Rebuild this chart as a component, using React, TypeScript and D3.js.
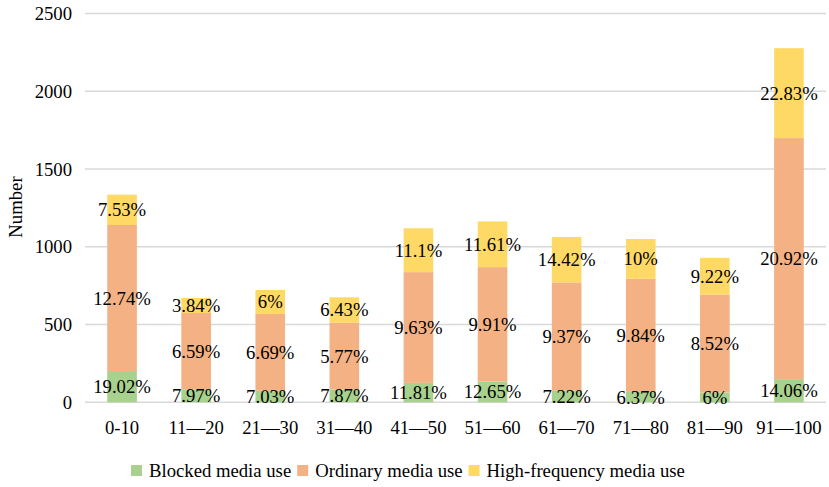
import React, { useEffect, useRef } from 'react';
import * as d3 from 'd3';

// categories and series
const categories = ['0-10', '11—20', '21—30', '31—40', '41—50', '51—60', '61—70', '71—80', '81—90', '91—100'];
const blocked = [201, 84, 74, 83, 125, 134, 76, 67, 63, 149];
const ordinary = [939, 490, 494, 429, 712, 735, 695, 727, 630, 1550];
const highFreq = [195, 97, 154, 163, 282, 294, 292, 256, 236, 578];

const blockedLabels = ['19.02%', '7.97%', '7.03%', '7.87%', '11.81%', '12.65%', '7.22%', '6.37%', '6%', '14.06%'];
const ordinaryLabels = ['12.74%', '6.59%', '6.69%', '5.77%', '9.63%', '9.91%', '9.37%', '9.84%', '8.52%', '20.92%'];
const highLabels = ['7.53%', '3.84%', '6%', '6.43%', '11.1%', '11.61%', '14.42%', '10%', '9.22%', '22.83%'];

const seriesNames = ['Blocked media use', 'Ordinary media use', 'High-frequency media use'];
const yTicks = [0, 500, 1000, 1500, 2000, 2500];

const colors = ['#a9d18e', '#f4b183', '#ffd966'];
const FONT = "'Liberation Serif', 'Times New Roman', 'DejaVu Serif', serif";
const FS = '18.7px';

const StackedChart = () => {
  const svgRef = useRef(null);

  useEffect(() => {
    const width = 829;
    const height = 487;
    const left = 85;
    const right = 826;
    const top = 13.5;
    const bottom = 402.3;

    const svg = d3.select(svgRef.current)
      .attr('width', width)
      .attr('height', height)
      .style('font-family', FONT)
      .style('font-size', FS);
    svg.selectAll('*').remove();

    const x = d3.scaleBand().domain(categories).range([left, right]).paddingInner(0.6).paddingOuter(0.3);
    const y = d3.scaleLinear().domain([0, 2500]).range([bottom, top]);

    // gridlines
    svg.append('g')
      .selectAll('line')
      .data(yTicks)
      .join('line')
      .attr('x1', left)
      .attr('x2', right)
      .attr('y1', (d) => y(d))
      .attr('y2', (d) => y(d))
      .attr('stroke', '#d9d9d9')
      .attr('stroke-width', 1.4);

    // y tick labels
    svg.append('g')
      .selectAll('text')
      .data(yTicks)
      .join('text')
      .attr('x', 72)
      .attr('y', (d) => y(d))
      .attr('text-anchor', 'end')
      .attr('dominant-baseline', 'central')
      .text((d) => d);

    // axis title
    svg.append('text')
      .attr('transform', `translate(15, 207) rotate(-90)`)
      .attr('text-anchor', 'middle')
      .attr('dominant-baseline', 'central')
      .text('Number');

    const rows = categories.map((c, i) => ({ cat: c, b: blocked[i], o: ordinary[i], h: highFreq[i] }));
    const stack = d3.stack().keys(['b', 'o', 'h'])(rows);
    const labelSets = [blockedLabels, ordinaryLabels, highLabels];

    stack.forEach((layer, k) => {
      svg.append('g')
        .selectAll('rect')
        .data(layer)
        .join('rect')
        .attr('x', (d) => x(d.data.cat))
        .attr('width', x.bandwidth())
        .attr('y', (d) => y(d[1]))
        .attr('height', (d) => y(d[0]) - y(d[1]))
        .attr('fill', colors[k]);
    });

    stack.forEach((layer, k) => {
      svg.append('g')
        .selectAll('text')
        .data(layer)
        .join('text')
        .attr('x', (d) => x(d.data.cat) + x.bandwidth() / 2)
        .attr('y', (d) => (y(d[0]) + y(d[1])) / 2)
        .attr('text-anchor', 'middle')
        .attr('dominant-baseline', 'central')
        .attr('fill', '#000')
        .text((d, i) => labelSets[k][i]);
    });

    // category labels
    svg.append('g')
      .selectAll('text')
      .data(categories)
      .join('text')
      .attr('x', (d) => x(d) + x.bandwidth() / 2)
      .attr('y', 427)
      .attr('text-anchor', 'middle')
      .attr('dominant-baseline', 'central')
      .text((d) => d);

    // legend
    const legend = svg.append('g').attr('transform', 'translate(131, 470.5)');
    let offset = 0;
    seriesNames.forEach((name, k) => {
      const g = legend.append('g').attr('transform', `translate(${offset}, 0)`);
      g.append('rect').attr('x', 0).attr('y', -5.5).attr('width', 11).attr('height', 11).attr('fill', colors[k]);
      const t = g.append('text')
        .attr('x', 18)
        .attr('y', 0)
        .attr('dominant-baseline', 'central')
        .text(name);
      const w = (t.node() as SVGTextElement).getComputedTextLength();
      offset += 18 + w + 6;
    });
  }, []);

  return <svg ref={svgRef} style={{ display: 'block', position: 'absolute', left: 0, top: 0 }} />;
};

export default function App() {
  return <StackedChart />;
}
